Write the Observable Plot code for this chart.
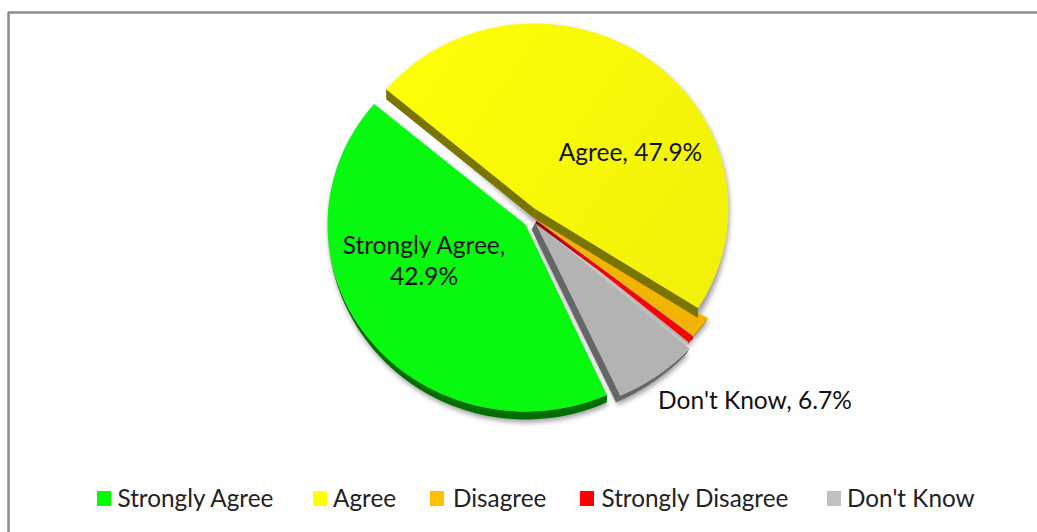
<!DOCTYPE html>
<html>
<head>
<meta charset="utf-8">
<script src="https://cdn.jsdelivr.net/npm/d3@7"></script>
<script src="https://cdn.jsdelivr.net/npm/@observablehq/plot@0.6"></script>
<style>html,body{margin:0;padding:0;background:#fff;overflow:hidden}svg{display:block}</style>
</head>
<body>
<script>
// ---- data ----
const categories = ["Strongly Agree", "Agree", "Disagree", "Strongly Disagree", "Don't Know"];
const percents = [42.9, 47.9, 1.9, 0.6, 6.7];
const labelLines = [["Strongly Agree,", "42.9%"], ["Agree, 47.9%"], [], [], ["Don't Know, 6.7%"]];

// ---- styles ----
const topColors = ["#06f90e", "url(#yellowGrad)", "#f2b400", "#ff0000", "#b3b3b3"];
const rimColors = ["#006f00", "#7a7400", "#a87c00", "#a00000", "#666666"];
const legendColors = ["#00ff00", "#ffff00", "#ffc000", "#ff0000", "#bfbfbf"];

// ---- layout (pixels in the x/y scales) ----
const W = 1037, H = 532;
const startDeg = 155.7;
const centerX = [525, 534, 536, 536, 535];
const centerY = [224, 208, 219, 220, 222];
const radiusX = [198, 194, 203, 203, 206];
const radiusY = [187, 185, 183, 183, 190];
const rimDX = [0, 0, 0, -1, -4];
const rimDY = [8, 10, 2, 3, 7];
const rimArc = [true, false, true, true, true];
const rimStart = [false, true, false, true, false];
const rimEnd = [false, true, false, false, true];
const drawOrder = [4, 3, 2, 0, 1];
const labelX = [423.5, 630, 0, 0, 754.5];
const labelY = [246, 153, 0, 0, 401];
const legendSwatchX = [97, 313, 430, 580, 827];
const legendTextX = [117, 332.5, 452.5, 601, 846.5];
const legendY = 498.5;
const fontFamily = "Lato, 'Open Sans', sans-serif";

// ---- geometry derived from the values ----
const rad = d => d * Math.PI / 180;
let acc = startDeg;
const slices = percents.map((p, i) => {
  const a0 = acc, a1 = acc + p * 3.6; acc = a1;
  const pt = a => [centerX[i] + radiusX[i] * Math.sin(rad(a)), centerY[i] - radiusY[i] * Math.cos(rad(a))];
  const angles = d3.range(0, 61).map(k => a0 + (a1 - a0) * k / 60);
  return {i, apex: [centerX[i], centerY[i]], arc: angles.map(pt), angles};
});
const shift = (pts, dx, dy) => pts.map(([x, y]) => [x + dx, y + dy]);
// the side wall of an arc fades out as the rim turns away from the viewer
const taperArc = (s, dx, dy) => s.arc.map(([x, y], j) => {
  const t = Math.max(0, -Math.cos(rad(s.angles[j])));
  return [x + dx * t, y + dy * t];
});
const rows = [];
let nextId = 0;
const addPoly = (store, pts, fill) => { const id = nextId++; pts.forEach(([x, y]) => store.push({x, y, id, fill})); };
const shadowRows = [];
for (const k of drawOrder) {
  const s = slices[k], dx = rimDX[k], dy = rimDY[k];
  addPoly(shadowRows, [...shift([s.apex], dx + 1, dy + 5), ...shift(taperArc(s, dx, dy), 1, 3)], "#555555");
}
for (const k of drawOrder) {
  const s = slices[k], dx = rimDX[k], dy = rimDY[k], c = rimColors[k];
  const A = s.apex, P0 = s.arc[0], P1 = s.arc[s.arc.length - 1];
  if (rimStart[k]) addPoly(rows, [A, P0, ...shift([P0, A], dx, dy)], c);
  if (rimEnd[k]) addPoly(rows, [A, P1, ...shift([P1, A], dx, dy)], c);
  if (rimArc[k]) addPoly(rows, [...s.arc, ...taperArc(s, dx, dy).reverse()], c);
  addPoly(rows, [A, ...s.arc], topColors[k]);
}
const labels = [];
labelLines.forEach((lines, i) => lines.forEach((t, j) => labels.push({t, x: labelX[i], y: labelY[i] + j * 31})));
const legend = categories.map((c, i) => ({c, sx: legendSwatchX[i], tx: legendTextX[i], color: legendColors[i]}));

const plot = Plot.plot({
  width: W, height: H, margin: 0,
  x: {domain: [0, W], range: [0, W], axis: null},
  y: {domain: [0, H], range: [0, H], axis: null},
  color: {type: "identity"},
  style: {background: "#fff", fontFamily},
  marks: [
    () => {
      const ns = "http://www.w3.org/2000/svg";
      const defs = document.createElementNS(ns, "defs");
      defs.innerHTML = '<linearGradient id="yellowGrad" gradientUnits="userSpaceOnUse" x1="380" y1="60" x2="730" y2="300"><stop offset="0" stop-color="#ffff05"/><stop offset="1" stop-color="#f0f00a"/></linearGradient>';
      return defs;
    },
    // chart frame
    Plot.ruleX([8], {y1: 12, y2: H, stroke: "#8c8c8c", strokeWidth: 2.5}),
    Plot.ruleY([12], {x1: 8, x2: W, stroke: "#8c8c8c", strokeWidth: 2.5}),
    // soft shadow, then the slices
    Plot.line(shadowRows, {x: "x", y: "y", z: "id", fill: "fill", stroke: null, fillOpacity: 0.55, imageFilter: "blur(2.5px)", curve: "linear"}),
    Plot.line(rows, {x: "x", y: "y", z: "id", fill: "fill", stroke: null, curve: "linear"}),
    // data labels
    Plot.text(labels, {x: "x", y: "y", text: "t", fontSize: 24.5, fill: "#111", textAnchor: "middle", lineAnchor: "middle"}),
    // legend
    Plot.rect(legend, {x1: "sx", x2: d => d.sx + 14, y1: legendY - 7.5, y2: legendY + 7.5, fill: "color"}),
    Plot.text(legend, {x: "tx", y: legendY, text: "c", fontSize: 24.3, fill: "#222", textAnchor: "start", lineAnchor: "middle"})
  ]
});
document.body.appendChild(plot);
</script>
</body>
</html>
